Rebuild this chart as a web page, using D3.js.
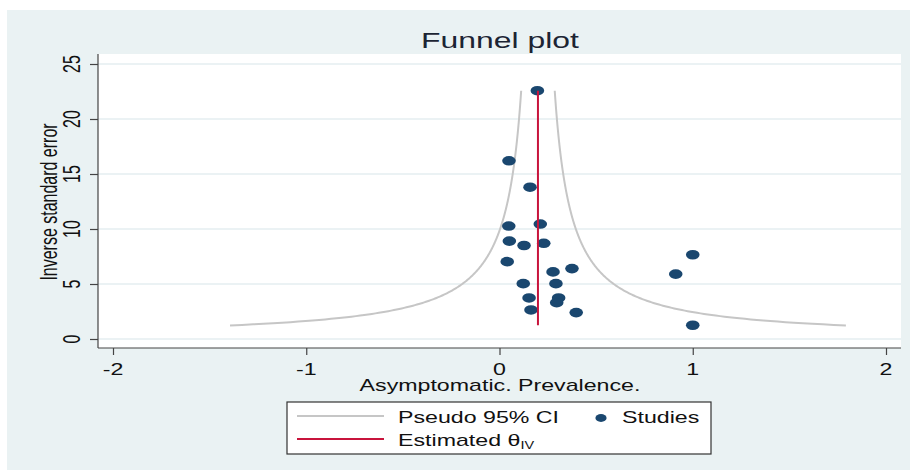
<!DOCTYPE html>
<html>
<head>
<meta charset="utf-8">
<script src="https://cdn.jsdelivr.net/npm/d3@7"></script>
<style>
  body { margin: 0; background: #fff; }
  text { font-family: "Liberation Sans", Arial, sans-serif; fill: #111; }
</style>
</head>
<body>
<div id="my_dataviz"></div>
<script>
// tick labels
var xTicks = [-2, -1, 0, 1, 2];
var yTicks = [0, 5, 10, 15, 20, 25];

// studies: effect size and inverse standard error
var effect = [0.196, 0.049, 0.158, 0.048, 0.211, 0.051, 0.127, 0.229, 0.040, 0.277,
              0.375, 0.123, 0.292, 0.153, 0.306, 0.296, 0.163, 0.397, 1.0, 0.912, 1.0];
var precision = [22.57, 16.2, 13.8, 10.27, 10.45, 8.9, 8.5, 8.7, 7.03, 6.1,
                 6.4, 5.03, 5.03, 3.73, 3.73, 3.3, 2.64, 2.4, 7.66, 5.9, 1.25];

// pooled estimate and the pseudo 95% CI
var thetaIV = 0.199;
var zCrit = 1.96;
var precisionRange = [1.23, 22.57];

const W = 910, H = 470;
const sx = 1.45; // the reference is stretched sideways
const plot = { left: 98, right: 901, top: 54, bottom: 348 };

const svg = d3
  .select("#my_dataviz")
  .append("svg")
  .attr("width", W)
  .attr("height", H);

// outer background
svg.append("rect")
  .attr("x", 7).attr("y", 10)
  .attr("width", W - 7).attr("height", H - 10)
  .attr("fill", "#eaf2f3");

// plot region
svg.append("rect")
  .attr("x", plot.left).attr("y", plot.top)
  .attr("width", plot.right - plot.left).attr("height", plot.bottom - plot.top)
  .attr("fill", "#fff");

const x = d3.scaleLinear().domain([-2, 2]).range([113, 886]);
const y = d3.scaleLinear().domain([0, 25]).range([339, 64]);

function stext(px, py, str, size, anchor) {
  return svg.append("text")
    .attr("transform", `translate(${px},${py}) scale(${sx},1)`)
    .attr("text-anchor", anchor || "middle")
    .attr("font-size", size)
    .text(str);
}

// grid lines
svg.append("g")
  .selectAll("line")
  .data(yTicks)
  .join("line")
  .attr("x1", plot.left).attr("x2", plot.right)
  .attr("y1", d => y(d)).attr("y2", d => y(d))
  .attr("stroke", "#e4eef0")
  .attr("stroke-width", 1.3);

// Y axis
svg.append("g")
  .attr("transform", `translate(${plot.left},0)`)
  .call(d3.axisLeft(y).tickValues(yTicks).tickSize(8).tickSizeOuter(0).tickFormat(""))
  .call(g => g.select(".domain").attr("d", `M0,${plot.top}V${plot.bottom}`))
  .selectAll("line, path").attr("stroke", "#444").attr("stroke-width", 1.2);

svg.append("g")
  .selectAll("text")
  .data(yTicks)
  .join("text")
  .attr("transform", d => `translate(80,${y(d)}) scale(${sx},1) rotate(-90)`)
  .attr("text-anchor", "middle")
  .attr("font-size", 16)
  .text(d => d);

svg.append("text")
  .attr("transform", `translate(57,202) scale(${sx},1) rotate(-90)`)
  .attr("text-anchor", "middle")
  .attr("font-size", 16)
  .text("Inverse standard error");

// X axis
svg.append("g")
  .attr("transform", `translate(0,${plot.bottom})`)
  .call(d3.axisBottom(x).tickValues(xTicks).tickSize(7).tickSizeOuter(0).tickFormat(""))
  .call(g => g.select(".domain").attr("d", `M${plot.left},0H${plot.right}`))
  .selectAll("line, path").attr("stroke", "#444").attr("stroke-width", 1.2);

xTicks.forEach(function (d) { stext(x(d), 375, d, 16); });
stext(500, 391, "Asymptomatic. Prevalence.", 16);

// title
stext(500, 48, "Funnel plot", 22).style("fill", "#1c2433");

// pseudo 95% CI funnel
var prec = d3.range(precisionRange[0], precisionRange[1], 0.05).concat([precisionRange[1]]);
var line = d3.line().x(d => x(d[0])).y(d => y(d[1]));
[-1, 1].forEach(function (s) {
  svg.append("path")
    .datum(prec.map(p => [thetaIV + s * zCrit / p, p]))
    .attr("d", line)
    .attr("fill", "none")
    .attr("stroke", "#c6c6c6")
    .attr("stroke-width", 2);
});

// studies
svg.append("g")
  .selectAll("ellipse")
  .data(effect)
  .join("ellipse")
  .attr("cx", (d, i) => x(d))
  .attr("cy", (d, i) => y(precision[i]))
  .attr("rx", 6.8)
  .attr("ry", 4.8)
  .attr("fill", "#1a476f");

// estimated theta
svg.append("line")
  .attr("x1", x(thetaIV)).attr("x2", x(thetaIV))
  .attr("y1", y(d3.max(precision))).attr("y2", y(d3.min(precision)))
  .attr("stroke", "#c8143c")
  .attr("stroke-width", 2);

// legend
svg.append("rect")
  .attr("x", 287).attr("y", 402)
  .attr("width", 424).attr("height", 52)
  .attr("fill", "#fff")
  .attr("stroke", "#333")
  .attr("stroke-width", 1.2);

svg.append("line")
  .attr("x1", 297).attr("x2", 384).attr("y1", 416).attr("y2", 416)
  .attr("stroke", "#c6c6c6").attr("stroke-width", 2);
stext(398, 423, "Pseudo 95% CI", 16, "start");

svg.append("ellipse")
  .attr("cx", 601).attr("cy", 418).attr("rx", 5.6).attr("ry", 3.9)
  .attr("fill", "#1a476f");
stext(622, 423, "Studies", 16, "start");

svg.append("line")
  .attr("x1", 297).attr("x2", 384).attr("y1", 439).attr("y2", 439)
  .attr("stroke", "#c8143c").attr("stroke-width", 2);
var est = stext(398, 446, "Estimated θ", 16, "start");
est.append("tspan").attr("font-size", 10).attr("dy", 3).text("IV");
</script>
</body>
</html>
